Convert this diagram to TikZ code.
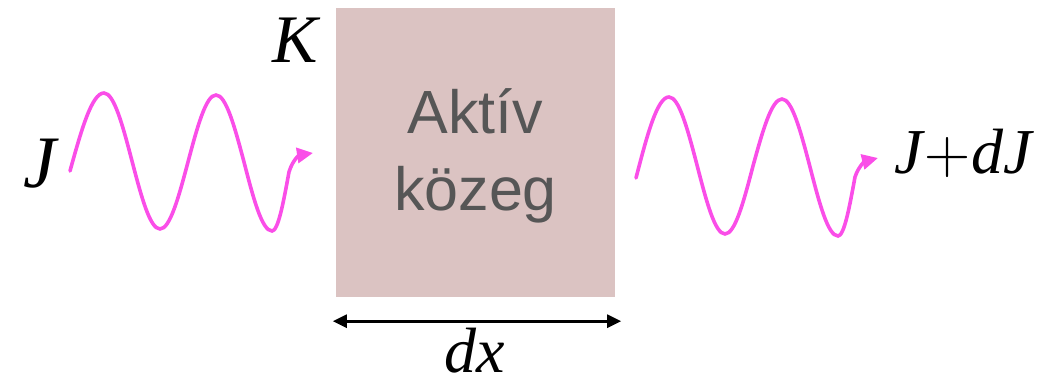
\RequirePackage{fix-cm}
\documentclass[tikz,border=0pt]{standalone}
\usepackage{fontspec}
\usepackage{xcolor}
\usetikzlibrary{arrows.meta, positioning}
\newfontfamily\slidefont{Liberation Sans}
\newfontfamily\symfont{Liberation Serif}
\definecolor{wavepink}{RGB}{250,78,232}
\definecolor{mediumpink}{RGB}{219,195,194}
\definecolor{slidegray}{RGB}{86,86,86}
\newcommand{\qty}[1]{{\symfont\itshape #1}}
\tikzset{
  medium/.style={fill=mediumpink, draw=none, inner sep=0pt,
                 minimum width=279pt, minimum height=289pt},
  mtext/.style={align=center, text=slidegray, inner sep=0pt,
                font=\slidefont\fontsize{61}{77}\selectfont},
  wave/.style={wavepink, line width=3.6pt, line cap=round,
               -{Triangle[length=16pt, width=15pt]}},
  dimarr/.style={line width=2.6pt, {Triangle[length=14pt, width=13pt]}-{Triangle[length=14pt, width=13pt]}},
  lbl/.style={inner sep=0pt, anchor=base},
}

\begin{document}
\begin{tikzpicture}[x=1pt, y=-1pt]
\useasboundingbox (0,0) rectangle (1058,385);
\node[medium] (box) at (475.5,152.5) {};
\node[mtext] (akt) at ([yshift=-3pt]box.center) {Aktív\\közeg};
\node[lbl, font=\fontsize{68}{74}\selectfont] (K) at (295,63) {\qty{K}};
\node[lbl, font=\fontsize{74}{80}\selectfont] (Jin) at (40,187) {\qty{J}};
\node[lbl, font=\fontsize{64}{70}\selectfont, anchor=base west] (Jout) at (894,174)
  {\qty{J}\kern2pt$+$\kern1pt\qty{dJ}};
% incoming and outgoing waves
\coordinate (inA) at (70,171);
\coordinate (inB) at (313,153);
\coordinate (outA) at (636,178);
\coordinate (outB) at (878,158);
\draw[wave] (inA) sin (104,93) cos (132,161) sin (160,229) cos (188,162)
  sin (216,95) cos (244,162) sin (272,231) cos (289,172)
  .. controls (293,159) and (300,155) .. (inB);
\draw[wave] (outA) sin (669,97) cos (697,165) sin (725,234) cos (753,166)
  sin (782,99) cos (810,167) sin (838,236) cos (855,177)
  .. controls (859,165) and (866,161) .. (outB);
% thickness dx
\coordinate (dxL) at ([xshift=-3pt, yshift=-24pt]box.south west);
\coordinate (dxR) at ([xshift=6pt, yshift=-24pt]box.south east);
\draw[dimarr] (dxL) -- (dxR);
\node[lbl, text depth=0pt, font=\fontsize{64}{70}\selectfont] (dx) at (475,372) {\qty{dx}};
\end{tikzpicture}
\end{document}
